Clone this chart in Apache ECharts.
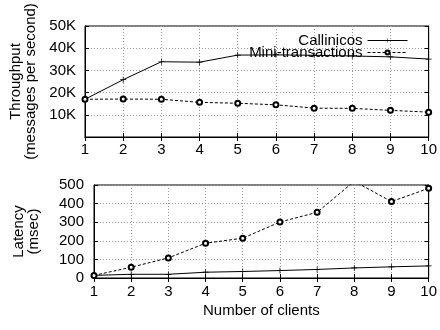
<!DOCTYPE html>
<html><head><meta charset="utf-8">
<script src="https://cdn.jsdelivr.net/npm/echarts@6/dist/echarts.min.js"></script>
<style>html,body{margin:0;padding:0;background:#fff}#c{width:440px;height:330px}</style>
</head><body><div id="c"></div>
<script>
var clients = [1,2,3,4,5,6,7,8,9,10];
var thrCallinicos = [17000,25800,33900,33700,36900,37000,36800,36500,36100,35100];
var thrMini = [17000,17100,17000,15600,15200,14500,13000,12900,12000,11200];
var latCallinicos = [14,20,20,31,35,40,46,54,60,65];
var latMini = [14,58,108,187,214,301,353,520,411,482];
var thrTicks = [0,10000,20000,30000,40000,50000];
var latTicks = [0,100,200,300,400,500];

function pairs(ys){return clients.map(function(x,i){return [x,ys[i]];});}
var font = 'Liberation Sans, Arial, sans-serif';
var FS = 15;
var plus = 'path://M0,4.4L10,4.4L10,5.6L0,5.6Z M4.4,0L5.6,0L5.6,10L4.4,10Z';
var splitL = {show:true,lineStyle:{type:[1,2],color:'#999',width:1}};
function xAx(gi, showName, margin){
  return {type:'value',gridIndex:gi,min:1,max:10,interval:1,
    axisLine:{show:true,lineStyle:{color:'#000',width:1}},
    axisTick:{show:true,inside:true,length:4,lineStyle:{color:'#000'}},
    axisLabel:{color:'#000',fontSize:FS,fontFamily:font,margin:margin},
    splitLine:splitL,
    name: showName?'Number of clients':'',nameLocation:'middle',nameGap:25,
    nameTextStyle:{color:'#000',fontSize:FS,fontFamily:font}};
}
function xAxTop(gi){
  return {type:'value',gridIndex:gi,min:1,max:10,interval:1,position:'top',
    axisLine:{show:true,lineStyle:{color:'#000',width:1}},
    axisTick:{show:true,inside:true,length:4,lineStyle:{color:'#000'}},
    axisLabel:{show:false},splitLine:{show:false}};
}
function yAxRight(gi,max,iv){
  return {type:'value',gridIndex:gi,min:0,max:max,interval:iv,position:'right',
      axisLine:{show:true,lineStyle:{color:'#000'}},
      axisTick:{show:true,inside:true,length:4,lineStyle:{color:'#000'}},
      axisLabel:{show:false},splitLine:{show:false}};
}
var option = {
  animation:false,
  backgroundColor:'#fff',
  grid:[
    {left:85,right:8,top:26,height:111,show:true,borderColor:'#000',borderWidth:1},
    {left:94,right:8,top:185,height:93,show:true,borderColor:'#000',borderWidth:1}
  ],
  legend:{
    data:['Callinicos','Mini-transactions'],
    orient:'vertical',align:'right',right:27,top:28,itemGap:-3,itemWidth:40,itemHeight:5,
    textStyle:{color:'#000',fontSize:FS,fontFamily:font},
    lineStyle:{width:1},
    itemStyle:{borderWidth:1},
    backgroundColor:'transparent'
  },
  xAxis:[xAx(0,false,5),xAx(1,true,6),xAxTop(0),xAxTop(1)],
  yAxis:[
    {type:'value',gridIndex:0,min:0,max:50000,interval:10000,
      axisLine:{show:true,lineStyle:{color:'#000'}},
      axisTick:{show:true,inside:true,length:4,lineStyle:{color:'#000'}},
      axisLabel:{color:'#000',fontSize:FS,fontFamily:font,margin:9,
        formatter:function(v){return v===0?'':(v/1000)+'K';}},
      splitLine:splitL,
      name:'Throughput\n(messages per second)',nameLocation:'middle',nameRotate:90,nameGap:41,
      nameTextStyle:{color:'#000',fontSize:FS,fontFamily:font,lineHeight:15}},
    {type:'value',gridIndex:1,min:0,max:500,interval:100,
      axisLine:{show:true,lineStyle:{color:'#000'}},
      axisTick:{show:true,inside:true,length:4,lineStyle:{color:'#000'}},
      axisLabel:{color:'#000',fontSize:FS,fontFamily:font,margin:10},
      splitLine:splitL,
      name:'Latency\n(msec)',nameLocation:'middle',nameRotate:90,nameGap:53,
      nameTextStyle:{color:'#000',fontSize:FS,fontFamily:font,lineHeight:15}},
    yAxRight(0,50000,10000),
    yAxRight(1,500,100)
  ],
  series:[
    {name:'Callinicos',type:'line',xAxisIndex:0,yAxisIndex:0,data:pairs(thrCallinicos),
      symbol:plus,symbolSize:6,itemStyle:{color:'#000'},lineStyle:{color:'#000',width:1},clip:true},
    {name:'Mini-transactions',type:'line',xAxisIndex:0,yAxisIndex:0,data:pairs(thrMini),
      symbol:'emptyCircle',symbolSize:5,itemStyle:{color:'#000',borderColor:'#000',borderWidth:1},
      lineStyle:{color:'#000',width:1,type:[3,2]},clip:true},
    {name:'Callinicos',type:'line',xAxisIndex:1,yAxisIndex:1,data:pairs(latCallinicos),
      symbol:plus,symbolSize:6,itemStyle:{color:'#000'},lineStyle:{color:'#000',width:1},clip:true},
    {name:'Mini-transactions',type:'line',xAxisIndex:1,yAxisIndex:1,data:pairs(latMini),
      symbol:'emptyCircle',symbolSize:5,itemStyle:{color:'#000',borderColor:'#000',borderWidth:1},
      lineStyle:{color:'#000',width:1,type:[3,2]},clip:true}
  ]
};
echarts.init(document.getElementById('c')).setOption(option);
</script></body></html>
